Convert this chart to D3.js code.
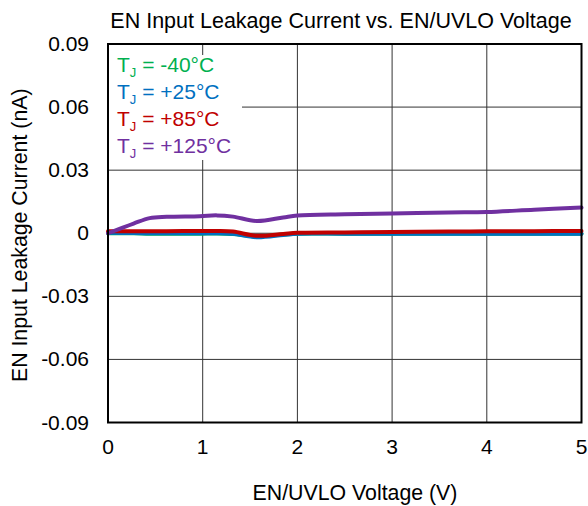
<!DOCTYPE html>
<html><head><meta charset="utf-8">
<script src="https://cdn.jsdelivr.net/npm/d3@7"></script>
<style>body{margin:0;background:#fff}svg{display:block}text{font-family:"Liberation Sans",Arial,sans-serif;fill:#000}</style>
</head><body>
<script>
const voltage = [0, 0.27, 0.44, 0.62, 0.97, 1.15, 1.32, 1.57, 1.85, 2.0, 2.5, 3.0, 3.6, 4.0, 4.5, 5.0];
const seriesNames = ["-40", "+25", "+85", "+125"];
const currM40  = [0, 0, -0.0002, -0.0002, -0.0002, -0.0001, -0.0004, -0.0015, -0.0006, -0.0002, -0.0002, -0.0002, -0.0002, -0.0002, -0.0002, -0.0002];
const curr25   = [0.0002, 0.0001, 0, 0, 0, 0, -0.0003, -0.0019, -0.0008, -0.0002, -0.0002, -0.0002, -0.0002, -0.0002, -0.0002, -0.0002];
const curr85   = [0.001, 0.001, 0.001, 0.001, 0.0011, 0.0011, 0.0008, -0.0012, -0.0003, 0.0002, 0.0004, 0.0006, 0.0008, 0.0009, 0.001, 0.0011];
const curr125  = [0, 0.0046, 0.0072, 0.0078, 0.0081, 0.0085, 0.0079, 0.0058, 0.0075, 0.0084, 0.009, 0.0094, 0.0099, 0.0101, 0.0112, 0.0122];
const xTicks = [0, 1, 2, 3, 4, 5];
const yTicks = [-0.09, -0.06, -0.03, 0, 0.03, 0.06, 0.09];
const yTickLabels = ["-0.09", "-0.06", "-0.03", "0", "0.03", "0.06", "0.09"];
const colors = ["#00b050", "#0070c0", "#c00000", "#7030a0"];

const W = 588, H = 506;
const L = 108, R = 581.5, T = 44, B = 422.5;
const svg = d3.select("body").append("svg").attr("width", W).attr("height", H);
const x = d3.scaleLinear().domain([0, 5]).range([L, R]);
const y = d3.scaleLinear().domain([-0.09, 0.09]).range([B, T]);

// grid
svg.append("g").selectAll("line").data(xTicks.slice(1, -1)).join("line")
  .attr("x1", d => x(d)).attr("x2", d => x(d)).attr("y1", T).attr("y2", B)
  .attr("stroke", "#333").attr("stroke-width", 1);
svg.append("g").selectAll("line").data(yTicks.slice(1, -1)).join("line")
  .attr("x1", L).attr("x2", R).attr("y1", d => y(d)).attr("y2", d => y(d))
  .attr("stroke", "#333").attr("stroke-width", 1);

// legend background
svg.append("rect").attr("x", L + 1).attr("y", 55).attr("width", 133).attr("height", 105).attr("fill", "#fff");

// lines
const allSeries = [currM40, curr25, curr85, curr125];
const line = d3.line().curve(d3.curveCatmullRom.alpha(0.5));
allSeries.forEach((s, i) => {
  svg.append("path").attr("d", line(voltage.map((v, j) => [x(v), y(s[j])])))
    .attr("fill", "none").attr("stroke", colors[i]).attr("stroke-width", 4)
    .attr("stroke-linejoin", "round").attr("stroke-linecap", "round");
});

// frame
svg.append("rect").attr("x", L).attr("y", T).attr("width", R - L).attr("height", B - T)
  .attr("fill", "none").attr("stroke", "#000").attr("stroke-width", 2);

// tick labels
svg.append("g").selectAll("text").data(xTicks).join("text")
  .attr("x", d => x(d)).attr("y", 454).attr("text-anchor", "middle")
  .attr("font-size", 21).text(d => d);
svg.append("g").selectAll("text").data(yTicks).join("text")
  .attr("x", 89).attr("y", d => y(d) + 7).attr("text-anchor", "end")
  .attr("font-size", 21).text((d, i) => yTickLabels[i]);

// titles
svg.append("text").attr("x", 341).attr("y", 28).attr("text-anchor", "middle")
  .attr("font-size", 21.5).text("EN Input Leakage Current vs. EN/UVLO Voltage");
svg.append("text").attr("x", 355).attr("y", 500).attr("text-anchor", "middle")
  .attr("font-size", 21.3).text("EN/UVLO Voltage (V)");
svg.append("text").attr("transform", `translate(27,${(T + B) / 2 + 2}) rotate(-90)`)
  .attr("text-anchor", "middle").attr("font-size", 21.3).text("EN Input Leakage Current (nA)");

// legend
seriesNames.forEach((n, i) => {
  const t = svg.append("text").attr("x", 117).attr("y", 72 + i * 27).attr("font-size", 21)
    .style("fill", colors[i]);
  t.append("tspan").text("T");
  t.append("tspan").attr("font-size", 13).attr("dy", 5).text("J");
  t.append("tspan").attr("dy", -5).text(" = " + n + "°C");
});
</script>
</body></html>
